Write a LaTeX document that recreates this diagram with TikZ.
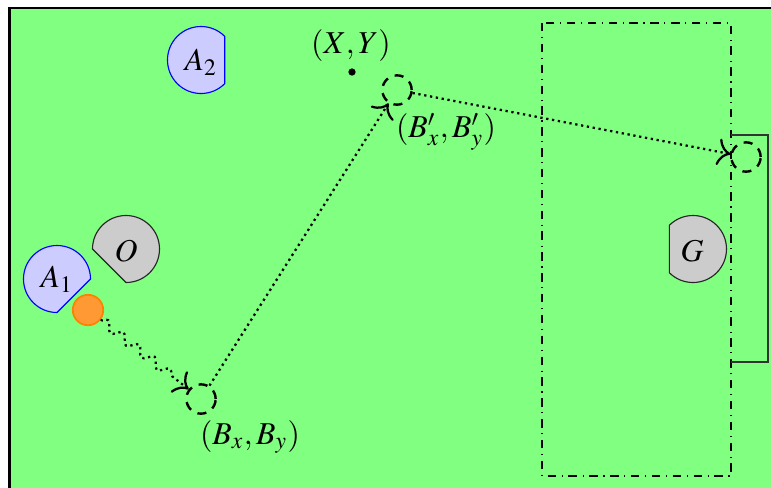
\documentclass[tikz,border=0pt]{standalone}
\usepackage{mathptmx}
\usetikzlibrary{decorations.pathmorphing,arrows.meta}
\tikzset{
  field/.style={fill=green!50, draw=black, line width=0.9pt},
  robotA/.style={fill=blue!20, draw=blue, line width=0.4pt},
  robotB/.style={fill=black!20, draw=black!85, line width=0.4pt},
  balldot/.style={circle, fill=orange!80, draw=orange, line width=0.6pt, minimum size=10.8pt, inner sep=0pt},
  ghost/.style={circle, draw=black, dash pattern=on 3.2pt off 2.6pt, line width=0.85pt, minimum size=10.4pt, inner sep=0pt},
  pointdot/.style={circle, fill=black, minimum size=2.6pt, inner sep=0pt},
  dotline/.style={line width=0.8pt, dash pattern=on 0.8pt off 1.3pt},
  dotarrow/.style={dotline, -{To[scale=1.35]}},
  snakearrow/.style={dotline, -{To[scale=1.35]}, decorate, decoration={snake, amplitude=1.6pt, segment length=7pt, post length=2mm}},
  penalty/.style={dash dot, line width=0.45pt},
  goalline/.style={draw=black!80, line width=0.55pt},
  lbl/.style={inner sep=0pt}
}
\begin{document}
\begin{tikzpicture}[x=0.355pt, y=-0.355pt, font=\fontsize{11.3pt}{13.5pt}\selectfont]
\useasboundingbox (0,0) rectangle (771,487);
\clip (0,0) rectangle (771,487);
% field
\draw[field] (9.3,7.8) rectangle (820,530);
% penalty box and goal
\draw[penalty] (542,23) rectangle (731,476);
\draw[goalline] (731,135) -- (768,135) -- (768,362) -- (731,362);
% robots
\draw[robotA] (57,279) ++(90:33.5) arc[start angle=90, end angle=360, radius=33.5] -- cycle;
\node[lbl] (a1) at (57,279) {$A_1$};
\draw[robotB] (126,249) ++(180:33.5) arc[start angle=180, end angle=450, radius=33.5] -- cycle;
\node[lbl] (o) at (126,251) {$O$};
\draw[robotA] (201,60) ++(45:33.5) arc[start angle=45, end angle=315, radius=33.5] -- cycle;
\node[lbl] (a2) at (201,62) {$A_2$};
\draw[robotB] (693,249) ++(225:33.5) arc[start angle=225, end angle=495, radius=33.5] -- cycle;
\node[lbl] (g) at (692,251) {$G$};
% ball and ghost positions
\node[balldot] (ball) at (88,310) {};
\node[ghost] (bx) at (201,399) {};
\node[ghost] (bp) at (397,90) {};
\node[ghost] (bg) at (746,157) {};
% target point
\node[pointdot] (xy) at (352,72) {};
\node[lbl] (xylbl) at (351,46) {$(X,Y)$};
% labels
\node[lbl] (bxlbl) at (250,437) {$(B_x,B_y)$};
\node[lbl] (bplbl) at (446,132) {$(B'_x,B'_y)$};
% connectors
\draw[snakearrow] (ball) -- (bx);
\draw[dotarrow] (bx) -- (bp);
\draw[dotarrow] (bp) -- (bg);
\end{tikzpicture}
\end{document}
